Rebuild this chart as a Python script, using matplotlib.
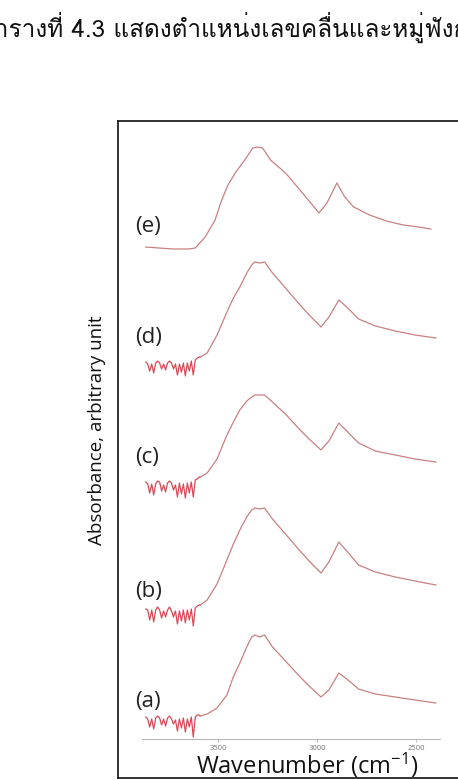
import matplotlib
matplotlib.use("Agg")
import matplotlib.pyplot as plt

plt.rcParams['font.family'] = ['Open Sans', 'DejaVu Sans']
plt.rcParams['mathtext.fontset'] = 'custom'
plt.rcParams['mathtext.rm'] = 'Open Sans'
plt.rcParams['mathtext.it'] = 'Open Sans'

# wavenumber grids (cm-1)
noisy_wn = [3865, 3855, 3845, 3835, 3825, 3815, 3805, 3795, 3785, 3775,
            3765, 3755, 3745, 3735, 3725, 3715, 3705, 3695, 3685, 3675,
            3665, 3655, 3645, 3635, 3625, 3615, 3605, 3595]
smooth_wn = [3590, 3555, 3505, 3455, 3425, 3390, 3355, 3330, 3315, 3290,
             3265, 3225, 3155, 3090, 3040, 2980, 2940, 2890, 2850, 2790,
             2705, 2605, 2505, 2400]
e_wn = [3865, 3800, 3725, 3650, 3615, 3565, 3515, 3485, 3450, 3410,
        3365, 3325, 3300, 3275, 3235, 3165, 3150, 3065, 2990, 2950,
        2900, 2860, 2815, 2735, 2650, 2565, 2485, 2425]

# absorbance, arbitrary unit
a_noisy = [0.03, 0.01, -0.07, 0.01, -0.09, 0.02, 0.04, 0.02, -0.05, 0.01,
           -0.06, 0.02, 0.04, 0.01, -0.04, 0.00, -0.11, 0.01, -0.08, 0.02,
           -0.12, 0.01, -0.07, 0.03, -0.17, 0.03, 0.05, 0.05]
a_smooth = [0.04, 0.06, 0.12, 0.25, 0.42, 0.57, 0.73, 0.83, 0.85, 0.83,
            0.85, 0.73, 0.58, 0.44, 0.34, 0.23, 0.30, 0.47, 0.41, 0.31,
            0.26, 0.23, 0.20, 0.17]
b_noisy = [0.03, 0.02, -0.08, 0.02, -0.10, 0.02, 0.05, 0.02, -0.06, 0.01,
           -0.05, 0.02, 0.05, 0.01, -0.05, 0.01, -0.12, 0.01, -0.09, 0.02,
           -0.11, 0.02, -0.08, 0.03, -0.14, 0.04, 0.06, 0.07]
b_smooth = [0.07, 0.12, 0.28, 0.52, 0.67, 0.82, 0.95, 1.02, 1.04, 1.03,
            1.04, 0.93, 0.77, 0.62, 0.51, 0.39, 0.50, 0.70, 0.61, 0.47,
            0.40, 0.35, 0.31, 0.27]
c_noisy = [0.03, 0.01, -0.08, 0.01, -0.10, 0.01, 0.04, 0.03, -0.06, 0.00,
           -0.07, 0.02, 0.04, 0.02, -0.05, 0.00, -0.12, 0.02, -0.09, 0.01,
           -0.13, 0.02, -0.08, 0.03, -0.12, 0.05, 0.06, 0.08]
c_smooth = [0.08, 0.12, 0.26, 0.50, 0.62, 0.75, 0.84, 0.88, 0.90, 0.90,
            0.90, 0.83, 0.70, 0.56, 0.46, 0.35, 0.44, 0.62, 0.54, 0.42,
            0.34, 0.30, 0.26, 0.23]
d_noisy = [0.03, 0.01, -0.06, 0.01, -0.08, 0.02, 0.04, 0.02, -0.04, 0.01,
           -0.05, 0.02, 0.04, 0.02, -0.04, 0.01, -0.10, 0.01, -0.07, 0.02,
           -0.11, 0.02, -0.06, 0.04, -0.10, 0.05, 0.07, 0.08]
d_smooth = [0.08, 0.12, 0.30, 0.53, 0.66, 0.78, 0.92, 1.00, 1.03, 1.02,
            1.03, 0.92, 0.76, 0.61, 0.50, 0.38, 0.48, 0.65, 0.58, 0.46,
            0.39, 0.34, 0.30, 0.27]
e_abs = [0.00, -0.01, -0.02, -0.02, -0.01, 0.10, 0.27, 0.45, 0.62, 0.75,
         0.87, 0.99, 1.00, 0.99, 0.87, 0.75, 0.72, 0.52, 0.34, 0.44,
         0.64, 0.50, 0.40, 0.32, 0.26, 0.22, 0.20, 0.18]

labels = ['(a)', '(b)', '(c)', '(d)', '(e)']
offsets = [0.19, 1.27, 2.54, 3.74, 4.92]
label_y = [0.37, 1.47, 2.82, 4.01, 5.12]
ticks = [3500, 3000, 2500]

W, H = 458, 780
fig = plt.figure(figsize=(W / 100, H / 100), dpi=100)

# outer frame of the figure image
frame = fig.add_axes([118 / W, (H - 778) / H, (470 - 118) / W, (778 - 121) / H])
frame.set_xticks([])
frame.set_yticks([])
for s in frame.spines.values():
    s.set_color('#222222')
    s.set_linewidth(1.3)

ax = fig.add_axes([142 / W, (H - 739) / H, (440 - 142) / W, (739 - 121) / H])
ax.patch.set_alpha(0)
ax.set_xlim(3884, 2379)
ax.set_ylim(0, 6.18)
for side in ['top', 'right', 'left']:
    ax.spines[side].set_visible(False)
ax.spines['bottom'].set_color('#b8b8b8')
ax.spines['bottom'].set_linewidth(0.8)
ax.set_yticks([])
ax.set_xticks(ticks)
ax.set_xticklabels([str(t) for t in ticks])
ax.tick_params(axis='x', length=2, width=0.6, color='#b8b8b8',
               labelsize=5.5, labelcolor='#777777', pad=2)

line_col = '#c98080'
noise_col = '#d84a55'

series = [(a_noisy, a_smooth), (b_noisy, b_smooth), (c_noisy, c_smooth),
          (d_noisy, d_smooth)]
for i, (nz, sm) in enumerate(series):
    off = offsets[i]
    ax.plot(noisy_wn + smooth_wn[:1], [v + off for v in nz + sm[:1]],
            color=noise_col, lw=0.9)
    ax.plot(smooth_wn, [v + off for v in sm], color=line_col, lw=0.9)
ax.plot(e_wn, [v + offsets[4] for v in e_abs], color=line_col, lw=0.9)

for lab, yy in zip(labels, label_y):
    ax.text(3920, yy, lab, fontsize=16, color='#222222', ha='left',
            va='center', clip_on=False)

fig.text(307 / W, 1 - 765 / H, 'Wavenumber (cm$^{-1}$)', fontsize=17,
         ha='center', va='center', color='#111111')
fig.text(97 / W, 1 - 430 / H, 'Absorbance, arbitrary unit', fontsize=13.5,
         rotation=90, ha='center', va='center', color='#111111')

fig.text(-21 / W, 1 - 27 / H, 'ตารางที่ 4.3 แสดงตำแหน่งเลขคลื่นและหมู่ฟังก์ชัน',
         fontsize=17.5, ha='left', va='center', color='#111111',
         family=['Loma', 'Noto Sans Thai Looped', 'DejaVu Sans'])

fig.savefig('out.png', dpi=100)
